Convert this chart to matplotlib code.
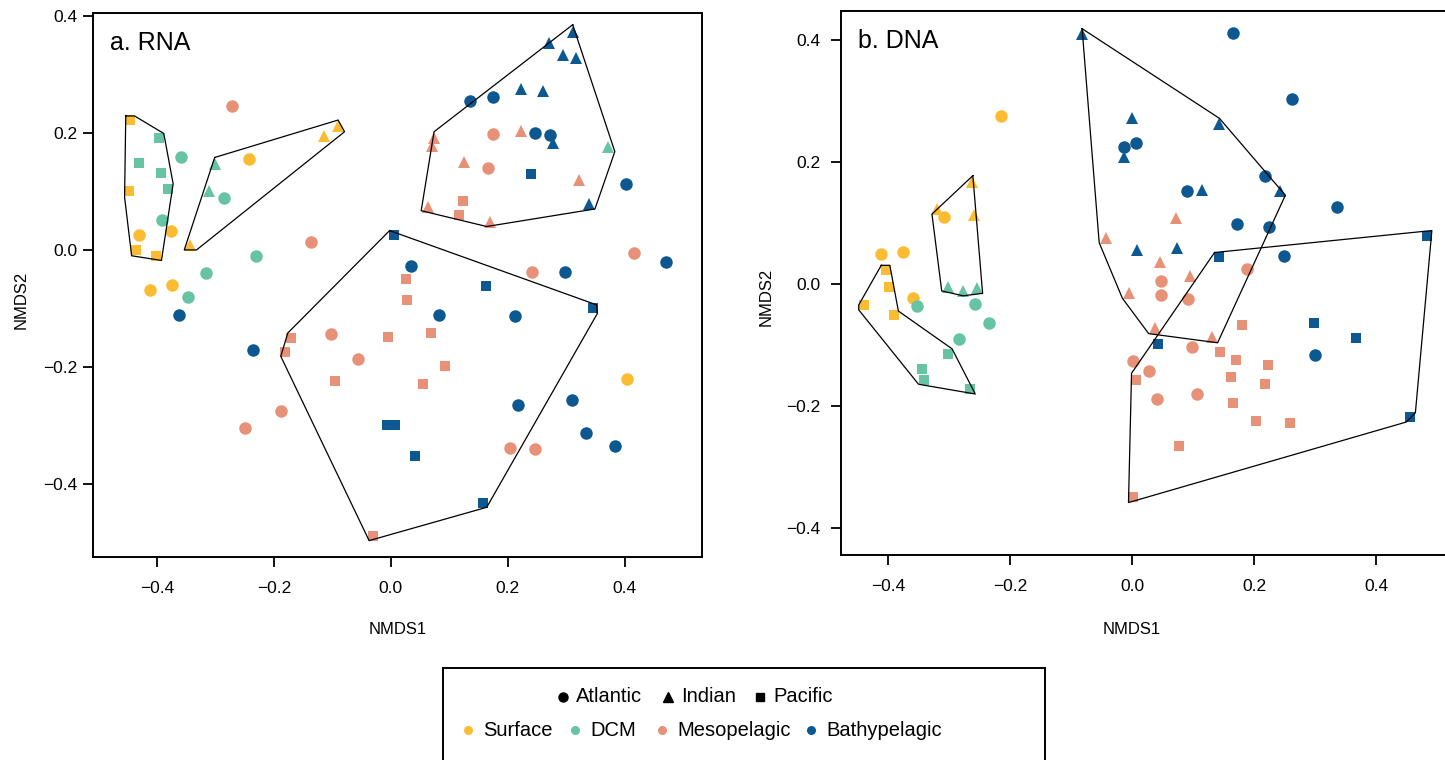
import matplotlib
matplotlib.use("Agg")
import matplotlib.pyplot as plt

plt.rcParams["font.family"] = ["Liberation Sans", "DejaVu Sans"]

# zone colours and ocean markers
zones = ["Surface", "DCM", "Mesopelagic", "Bathypelagic"]
zone_codes = ["S", "D", "M", "B"]
zone_colors = ["#FCBC32", "#66C4A5", "#E89179", "#0E5892"]
oceans = ["Atlantic", "Indian", "Pacific"]
ocean_codes = ["A", "I", "P"]
ocean_markers = ["o", "^", "s"]
ocean_sizes = [9.0, 9.0, 7.6]

# RNA ordination scores
rna_x = [
    -0.446, -0.447, -0.436, -0.401, -0.114, -0.090, -0.344,
    -0.243, -0.431, -0.376, -0.411, -0.374, 0.404,
    -0.396, -0.430, -0.393, -0.381, -0.301, -0.311, 0.372,
    -0.359, -0.285, -0.391, -0.231, -0.316, -0.347,
    -0.272, -0.136, 0.174, 0.167, 0.416, 0.241, -0.103, -0.056, -0.187, -0.249, 0.203, 0.247,
    0.222, 0.074, 0.071, 0.125, 0.321, 0.063, 0.169,
    0.124, 0.116, 0.026, 0.027, -0.170, -0.180, -0.005, -0.095, -0.030, 0.068, 0.092, 0.055,
    0.311, 0.271, 0.295, 0.317, 0.223, 0.260, 0.278, 0.338,
    0.136, 0.174, 0.247, 0.272, 0.402, 0.470, 0.297, 0.035, -0.362, -0.235, 0.083, 0.213,
    0.218, 0.309, 0.333, 0.384,
    0.005, 0.239, 0.162, 0.345, -0.007, 0.007, 0.042, 0.157,
]
rna_y = [
    0.222, 0.100, 0.000, -0.010, 0.195, 0.211, 0.008,
    0.155, 0.026, 0.032, -0.068, -0.060, -0.221,
    0.192, 0.149, 0.131, 0.104, 0.147, 0.101, 0.176,
    0.159, 0.089, 0.051, -0.011, -0.040, -0.080,
    0.246, 0.013, 0.198, 0.140, -0.005, -0.038, -0.143, -0.187, -0.276, -0.304, -0.339, -0.341,
    0.204, 0.191, 0.177, 0.151, 0.120, 0.074, 0.048,
    0.083, 0.060, -0.050, -0.085, -0.151, -0.174, -0.149, -0.224, -0.489, -0.142, -0.199, -0.229,
    0.373, 0.353, 0.333, 0.328, 0.275, 0.272, 0.182, 0.078,
    0.255, 0.262, 0.200, 0.196, 0.112, -0.020, -0.038, -0.028, -0.111, -0.171, -0.111, -0.113,
    -0.265, -0.256, -0.313, -0.335,
    0.025, 0.129, -0.062, -0.099, -0.299, -0.299, -0.353, -0.432,
]
rna_ocean = list(
    "PPPPIII" "AAAAAA"
    "PPPPIII" "AAAAAA"
    "AAAAAAAAAAAA" "IIIIIII" "PPPPPPPPPPPP"
    "IIIIIIII" "AAAAAAAAAAAAAAAA" "PPPPPPPP"
)
rna_zone = list("S" * 13 + "D" * 13 + "M" * 31 + "B" * 32)

# DNA ordination scores
dna_x = [
    -0.215, -0.308, -0.411, -0.376, -0.359, -0.263, -0.320, -0.259,
    -0.404, -0.398, -0.440, -0.390,
    -0.301, -0.277, -0.255, -0.353, -0.258, -0.234, -0.284,
    -0.302, -0.344, -0.341, -0.266,
    -0.043, -0.005, 0.072, 0.046, 0.095, 0.038, 0.131,
    0.047, 0.047, 0.091, 0.188, 0.002, 0.098, 0.028, 0.107, 0.041,
    0.007, 0.002, 0.180, 0.144, 0.170, 0.223, 0.162, 0.218, 0.166, 0.203, 0.259, 0.077,
    -0.082, -0.001, -0.013, 0.008, 0.143, 0.242, 0.114, 0.073,
    -0.014, 0.007, 0.165, 0.262, 0.218, 0.090, 0.336, 0.171, 0.225, 0.249, 0.300,
    0.142, 0.483, 0.043, 0.298, 0.367, 0.456,
]
dna_y = [
    0.275, 0.109, 0.048, 0.052, -0.023, 0.167, 0.122, 0.113,
    0.022, -0.006, -0.035, -0.052,
    -0.005, -0.012, -0.007, -0.037, -0.034, -0.064, -0.091,
    -0.116, -0.140, -0.158, -0.173,
    0.074, -0.016, 0.107, 0.036, 0.013, -0.073, -0.087,
    0.005, -0.018, -0.025, 0.024, -0.127, -0.104, -0.143, -0.181, -0.190,
    -0.158, -0.350, -0.068, -0.112, -0.125, -0.134, -0.153, -0.164, -0.195, -0.225, -0.228, -0.266,
    0.409, 0.272, 0.208, 0.055, 0.261, 0.152, 0.153, 0.059,
    0.224, 0.231, 0.411, 0.303, 0.176, 0.152, 0.126, 0.097, 0.093, 0.046, -0.117,
    0.044, 0.078, -0.099, -0.064, -0.089, -0.218,
]
dna_ocean = list(
    "AAAAAIIIPPPP"
    "IIIAAAAPPPP"
    "IIIIIIIAAAAAAAAAPPPPPPPPPPPP"
    "IIIIIIIIAAAAAAAAAAAPPPPPP"
)
dna_zone = list("S" * 12 + "D" * 11 + "M" * 28 + "B" * 25)

# hull outlines (vertex x, vertex y)
rna_hulls = [
    ([-0.453, -0.438, -0.388, -0.372, -0.392, -0.443, -0.455],
     [0.229, 0.229, 0.199, 0.113, -0.018, -0.010, 0.090]),
    ([-0.301, -0.090, -0.079, -0.332, -0.353],
     [0.158, 0.222, 0.202, 0.000, 0.000]),
    ([0.311, 0.383, 0.349, 0.164, 0.052, 0.074],
     [0.385, 0.168, 0.070, 0.040, 0.067, 0.202]),
    ([-0.002, 0.352, 0.353, 0.164, -0.037, -0.188, -0.176],
     [0.033, -0.094, -0.109, -0.440, -0.497, -0.182, -0.142]),
]
dna_hulls = [
    ([-0.411, -0.397, -0.383, -0.295, -0.257, -0.350, -0.448, -0.448],
     [0.030, 0.030, -0.045, -0.107, -0.181, -0.165, -0.043, -0.035]),
    ([-0.261, -0.328, -0.312, -0.277, -0.245],
     [0.177, 0.114, -0.012, -0.020, -0.016]),
    ([-0.082, 0.143, 0.251, 0.140, 0.027, -0.016, -0.054],
     [0.418, 0.271, 0.145, -0.097, -0.082, -0.024, 0.067]),
    ([0.135, 0.491, 0.464, 0.449, -0.006, -0.001],
     [0.051, 0.087, -0.212, -0.227, -0.359, -0.147]),
]

ticks = [-0.4, -0.2, 0.0, 0.2, 0.4]
tick_labels = [f"{t:.1f}".replace("-", "\u2212") for t in ticks]

W, H = 1445, 760
fig = plt.figure(figsize=(W / 100, H / 100), dpi=100)


def px_axes(left, top, right, bottom):
    return fig.add_axes([left / W, 1 - bottom / H, (right - left) / W, (bottom - top) / H])


def draw_panel(ax, xs, ys, ocean, zone, hulls, title, xlim, ylim, ypad):
    for zc, col in zip(zone_codes, zone_colors):
        for oc, mk, ms in zip(ocean_codes, ocean_markers, ocean_sizes):
            px = [x for x, o, z in zip(xs, ocean, zone) if o == oc and z == zc]
            py = [y for y, o, z in zip(ys, ocean, zone) if o == oc and z == zc]
            ax.plot(px, py, linestyle="none", marker=mk, markersize=ms,
                    color=col, markeredgewidth=0, zorder=2)
    for hx, hy in hulls:
        ax.plot(hx + hx[:1], hy + hy[:1], color="black", lw=0.9, zorder=3)
    ax.set_xlim(*xlim)
    ax.set_ylim(*ylim)
    ax.set_xticks(ticks)
    ax.set_yticks(ticks)
    ax.set_xticklabels(tick_labels)
    ax.set_yticklabels(tick_labels)
    ax.tick_params(direction="out", length=7, width=1.3, labelsize=12.5)
    ax.tick_params(axis="x", pad=10)
    ax.tick_params(axis="y", pad=ypad)
    for s in ax.spines.values():
        s.set_linewidth(1.4)
    ax.set_xlabel("NMDS1", fontsize=12)
    ax.set_ylabel("NMDS2", fontsize=12)
    ax.text(0.028, 0.945, title, transform=ax.transAxes, fontsize=18,
            ha="left", va="center")


ax1 = px_axes(93, 13, 702, 557)
draw_panel(ax1, rna_x, rna_y, rna_ocean, rna_zone, rna_hulls, "a. RNA",
           (-0.509, 0.532), (-0.525, 0.405), 4)
ax1.xaxis.set_label_coords(0.5, -0.12)
ax1.yaxis.set_label_coords(-0.105, 0.472)

ax2 = px_axes(841, 11, 1452, 555)
draw_panel(ax2, dna_x, dna_y, dna_ocean, dna_zone, dna_hulls, "b. DNA",
           (-0.477, 0.524), (-0.445, 0.447), 8)
ax2.xaxis.set_label_coords(0.475, -0.124)
ax2.yaxis.set_label_coords(-0.11, 0.474)

# legend box below the panels, laid out in pixel units
lax = px_axes(443, 668, 1045, 800)
lax.set_xlim(443, 1045)
lax.set_ylim(800, 668)
lax.set_xticks([])
lax.set_yticks([])
for s in lax.spines.values():
    s.set_linewidth(1.4)

ocean_x = [563, 668, 760]
for x, name, mk, ms in zip(ocean_x, oceans, ocean_markers, [6.5, 6.5, 5.5]):
    lax.plot([x], [697], linestyle="none", marker=mk, markersize=ms, color="black")
    lax.text(x + 13, 697, name, fontsize=14.5, ha="left", va="center")

zone_x = [468, 575, 662, 811]
for x, name, col in zip(zone_x, zones, zone_colors):
    lax.plot([x], [730], linestyle="none", marker="o", markersize=6.5,
             color=col, markeredgewidth=0)
    lax.text(x + 15, 731, name, fontsize=14.5, ha="left", va="center")

fig.savefig("out.png", dpi=100)
